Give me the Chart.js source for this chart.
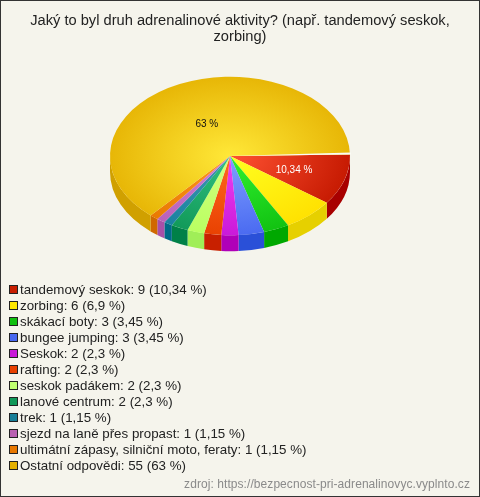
<!DOCTYPE html>
<html>
<head>
<meta charset="utf-8">
<style>
  html, body { margin: 0; padding: 0; background: #f5f4ec; }
  #wrap { position: relative; width: 480px; height: 497px; overflow: hidden; }
  #wrap:after { content: ""; position: absolute; inset: 0; border: 1px solid #333; pointer-events: none; }
  canvas { position: absolute; left: 0; top: 0; }
  #title { position: absolute; left: 0; width: 480px; top: 13px; text-align: center; font: 14.67px/15.5px "Liberation Sans", Arial, sans-serif; color: #222; }
  #legend { position: absolute; left: 9px; top: 282px; font: 13.33px "Liberation Sans", Arial, sans-serif; color: #222; }
  .row { height: 16px; line-height: 16px; white-space: nowrap; }
  .box { display: inline-block; width: 7px; height: 7px; border: 1px solid #222; margin-right: 2px; vertical-align: 0; }
  #source { position: absolute; right: 10px; top: 477px; font: 12px "Liberation Sans", Arial, sans-serif; letter-spacing: 0.07px; color: #8a8a8a; }
</style>
</head>
<body>
<div id="wrap">
  <canvas id="pie" width="480" height="497"></canvas>
  <div id="title"></div>
  <div id="legend"></div>
  <div id="source">zdroj: https://bezpecnost-pri-adrenalinovyc.vyplnto.cz</div>
</div>
<script src="https://cdn.jsdelivr.net/npm/chart.js@4"></script>
<script>
// Survey answers
const titleLines = ['Jaký to byl druh adrenalinové aktivity? (např. tandemový seskok,', 'zorbing)'];
const categories = ['tandemový seskok', 'zorbing', 'skákací boty', 'bungee jumping', 'Seskok', 'rafting',
  'seskok padákem', 'lanové centrum', 'trek', 'sjezd na laně přes propast',
  'ultimátní zápasy, silniční moto, feraty', 'Ostatní odpovědi'];
const counts = [9, 6, 3, 3, 2, 2, 2, 2, 1, 1, 1, 55];
const percents = ['10,34', '6,9', '3,45', '3,45', '2,3', '2,3', '2,3', '2,3', '1,15', '1,15', '1,15', '63'];

// Slice colours: legend / bright centre / rim / side wall
const legendColors = ['#c81e00', '#ffe800', '#10c010', '#4868f0', '#c818d8', '#e84000', '#c0ff70', '#109858', '#187f98', '#b860b0', '#e87800', '#e4b000'];
const innerColors = ['#ff5232', '#ffff20', '#30f030', '#80a0ff', '#f040f0', '#ff6820', '#d4ff80', '#30c080', '#4098b0', '#d080d8', '#ff9820', '#ffe838'];
const rimColors = ['#c41800', '#ffe000', '#10c010', '#4868f0', '#c818d8', '#e84000', '#b8ff60', '#109858', '#1880a0', '#b860b8', '#e87800', '#e6b404'];
const wallColors = ['#a80000', '#e6d000', '#00a800', '#2a50d8', '#b000b8', '#c82000', '#a0ee58', '#008048', '#006a88', '#a850a8', '#d06800', '#d0a000'];

// Only these slices carry a label on the pie: index, distance from centre, colour
const pieLabels = [[0, 0.56, '#ffffff'], [11, 0.46, '#111111']];

const SQUASH = 0.66;
const DEPTH = 16;

const pie3d = {
  id: 'pie3d',
  beforeDatasetsDraw(chart) {
    const ctx = chart.ctx;
    const arcs = chart.getDatasetMeta(0).data;
    // side wall, only the part facing the viewer
    arcs.forEach((arc, i) => {
      const a = Math.max(arc.startAngle, 0);
      const b = Math.min(arc.endAngle, Math.PI);
      if (b <= a) return;
      const r = arc.outerRadius;
      ctx.beginPath();
      ctx.ellipse(arc.x, arc.y, r, r * SQUASH, 0, a, b);
      ctx.ellipse(arc.x, arc.y + DEPTH, r, r * SQUASH, 0, b, a, true);
      ctx.closePath();
      ctx.fillStyle = wallColors[i];
      ctx.fill();
    });
    ctx.save();
    const first = arcs[0];
    ctx.translate(first.x, first.y);
    ctx.scale(1, SQUASH);
    ctx.translate(-first.x, -first.y);
  },
  afterDatasetsDraw(chart) {
    const ctx = chart.ctx;
    ctx.restore();
    const arcs = chart.getDatasetMeta(0).data;
    const first = arcs[0];
    const r = first.outerRadius;

    // thin white notch where the first slice is pulled away
    ctx.beginPath();
    ctx.moveTo(first.x, first.y);
    ctx.ellipse(first.x, first.y, r + 1, (r + 1) * SQUASH, 0, first.startAngle - 0.026, first.startAngle);
    ctx.closePath();
    ctx.fillStyle = '#fbfbf6';
    ctx.fill();

    ctx.font = '10px "Liberation Sans", Arial, sans-serif';
    ctx.textAlign = 'center';
    ctx.textBaseline = 'middle';
    pieLabels.forEach(([i, dist, color]) => {
      const arc = arcs[i];
      const mid = (arc.startAngle + arc.endAngle) / 2;
      ctx.fillStyle = color;
      ctx.fillText(percents[i] + ' %', arc.x + Math.cos(mid) * r * dist, arc.y + Math.sin(mid) * r * dist * SQUASH + 1);
    });
  }
};

function sliceGradient(context) {
  const chart = context.chart;
  const area = chart.chartArea;
  if (!area) return rimColors[context.dataIndex];
  const cx = (area.left + area.right) / 2;
  const cy = (area.top + area.bottom) / 2;
  const r = Math.min(area.right - area.left, area.bottom - area.top) / 2;
  const g = chart.ctx.createRadialGradient(cx, cy, 0, cx, cy, r * 1.05);
  g.addColorStop(0, innerColors[context.dataIndex]);
  g.addColorStop(1, rimColors[context.dataIndex]);
  return g;
}

new Chart(document.getElementById('pie'), {
  type: 'pie',
  data: {
    labels: categories,
    datasets: [{
      data: counts,
      backgroundColor: sliceGradient,
      borderWidth: 0,
      clip: false
    }]
  },
  options: {
    responsive: false,
    animation: false,
    rotation: 89,
    layout: { padding: { left: 110, right: 130, top: 36, bottom: 221 } },
    plugins: {
      legend: { display: false },
      tooltip: { enabled: false }
    }
  },
  plugins: [pie3d]
});

document.getElementById('title').innerHTML = titleLines.join('<br>');

// legend sits in the page so each answer gets its own row
const legendEl = document.getElementById('legend');
categories.forEach((name, i) => {
  const row = document.createElement('div');
  row.className = 'row';
  row.innerHTML = `<span class="box" style="background:${legendColors[i]}"></span>${name}: ${counts[i]} (${percents[i]} %)`;
  legendEl.appendChild(row);
});
</script>
</body>
</html>
